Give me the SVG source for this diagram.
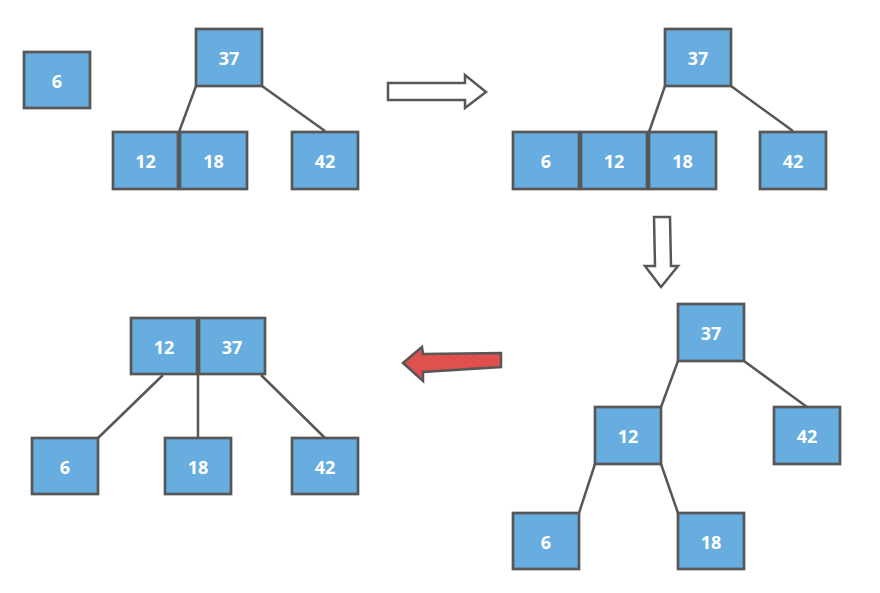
<svg xmlns="http://www.w3.org/2000/svg" width="880" height="593" viewBox="0 0 880 593">
<style>
.n rect{fill:#67ADE0;stroke:#575757;stroke-width:2.7}
.n text{fill:#fff;font-family:"Open Sans","Liberation Sans",sans-serif;font-weight:bold;font-size:18px;text-anchor:middle;dominant-baseline:central}
.e line{stroke:#575757;stroke-width:2.5}
.arr{fill:#fff;stroke:#575757;stroke-width:2.5;stroke-linejoin:miter}
</style>
<rect width="880" height="593" fill="#fff"/>
<g class="e" id="connectors">
<line x1="196" y1="86" x2="179" y2="132"/>
<line x1="262" y1="86" x2="325" y2="131"/>
<line x1="665" y1="86" x2="649" y2="132"/>
<line x1="731" y1="86" x2="793" y2="131"/>
<line x1="678" y1="361" x2="661" y2="407"/>
<line x1="744" y1="361" x2="807" y2="407"/>
<line x1="595" y1="464" x2="579" y2="513"/>
<line x1="661" y1="464" x2="678" y2="513"/>
<line x1="163" y1="375" x2="98" y2="438"/>
<line x1="198" y1="374" x2="198" y2="438"/>
<line x1="261" y1="375" x2="325" y2="438"/>
</g>
<g id="arrows">
<polygon class="arr" points="388,83 465,83 465,75 486,92 465,108 465,100 388,100"/>
<polygon class="arr" points="654,217 670,217 671,266 678,266 661,287 645,266 655,266"/>
<polygon class="arr" style="fill:#E0504F" points="403,363 422,347 423,354 501,353 501,367 423,372 423,381"/>
</g>
<g class="n" id="a6"><rect x="24" y="52" width="66" height="56"/><text x="57" y="80.5">6</text></g>
<g class="n" id="a37"><rect x="196" y="29" width="66" height="57"/><text x="229" y="58">37</text></g>
<g class="n" id="a12"><rect x="113" y="132" width="65" height="57"/><text x="145.5" y="161">12</text></g>
<g class="n" id="a18"><rect x="180" y="132" width="67" height="57"/><text x="213.5" y="161">18</text></g>
<g class="n" id="a42"><rect x="292" y="132" width="66" height="57"/><text x="325" y="161">42</text></g>
<g class="n" id="b37"><rect x="665" y="29" width="66" height="57"/><text x="698" y="58">37</text></g>
<g class="n" id="b6"><rect x="513" y="132" width="66" height="57"/><text x="546" y="161">6</text></g>
<g class="n" id="b12"><rect x="581" y="132" width="66" height="57"/><text x="614" y="161">12</text></g>
<g class="n" id="b18"><rect x="649" y="132" width="67" height="57"/><text x="682.5" y="161">18</text></g>
<g class="n" id="b42"><rect x="760" y="132" width="66" height="57"/><text x="793" y="161">42</text></g>
<g class="n" id="c37"><rect x="678" y="304" width="66" height="57"/><text x="711" y="333">37</text></g>
<g class="n" id="c12"><rect x="595" y="407" width="66" height="57"/><text x="628" y="436">12</text></g>
<g class="n" id="c42"><rect x="774" y="407" width="66" height="57"/><text x="807" y="436">42</text></g>
<g class="n" id="c6"><rect x="513" y="513" width="66" height="56"/><text x="546" y="541.5">6</text></g>
<g class="n" id="c18"><rect x="678" y="513" width="66" height="56"/><text x="711" y="541.5">18</text></g>
<g class="n" id="d12"><rect x="131" y="318" width="66" height="56"/><text x="164" y="346.5">12</text></g>
<g class="n" id="d37"><rect x="199" y="318" width="66" height="56"/><text x="232" y="346.5">37</text></g>
<g class="n" id="d6"><rect x="32" y="438" width="66" height="56"/><text x="65" y="466.5">6</text></g>
<g class="n" id="d18"><rect x="165" y="438" width="66" height="56"/><text x="198" y="466.5">18</text></g>
<g class="n" id="d42"><rect x="292" y="438" width="66" height="56"/><text x="325" y="466.5">42</text></g>
</svg>
